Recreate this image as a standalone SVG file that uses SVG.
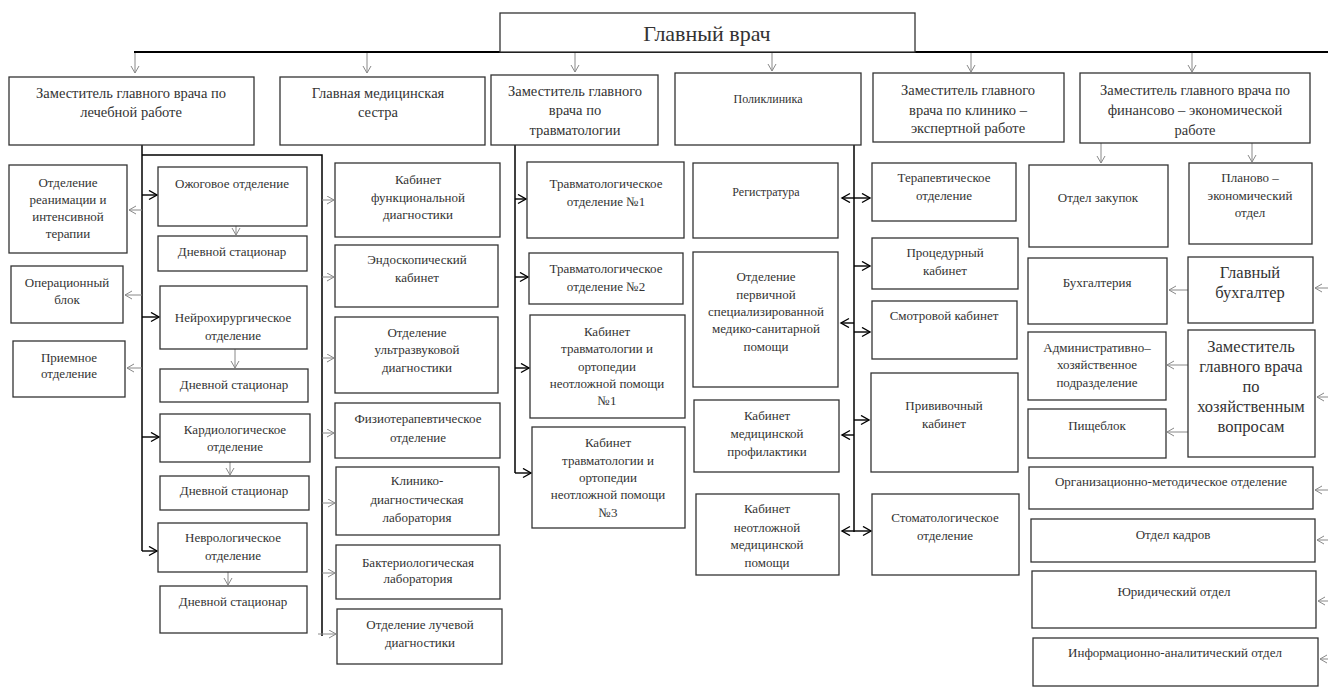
<svg xmlns="http://www.w3.org/2000/svg" width="1328" height="687" viewBox="0 0 1328 687">
<style>
.box{fill:#fff;stroke:#333;stroke-width:1.3}
text{font-size:13px;fill:#333;text-anchor:middle}
.t14{font-size:14.5px}
.t12{font-size:12px}
.t16{font-size:16.5px}
.title{font-size:22px}
.ln{stroke:#000;stroke-width:1.5;fill:none}
.bus{stroke:#000;stroke-width:2;fill:none}
.ga{stroke:#888;stroke-width:1;fill:none;marker-end:url(#mg)}
.ba{stroke:#000;stroke-width:1.4;fill:none;marker-end:url(#mb)}
.bd{stroke:#000;stroke-width:1.4;fill:none;marker-end:url(#mb);marker-start:url(#mb)}
</style>
<defs>
<marker id="mg" markerUnits="userSpaceOnUse" markerWidth="10" markerHeight="10" refX="8" refY="4.5" orient="auto">
<path d="M1,0.5 L8,4.5 L1,8.5" fill="none" stroke="#888" stroke-width="1"/>
</marker>
<marker id="mb" markerUnits="userSpaceOnUse" markerWidth="12" markerHeight="12" refX="9" refY="5" orient="auto-start-reverse">
<path d="M1,0.5 L9,5 L1,9.5" fill="none" stroke="#000" stroke-width="1.4"/>
</marker>
</defs>

<g id="connectors">
<line class="bus" x1="134" y1="52" x2="1328" y2="52"/>
<line class="ga" x1="135" y1="53" x2="135" y2="73"/>
<line class="ga" x1="367" y1="53" x2="367" y2="73"/>
<line class="ga" x1="575" y1="53" x2="575" y2="72"/>
<line class="ga" x1="772" y1="53" x2="772" y2="71"/>
<line class="ga" x1="971" y1="53" x2="971" y2="72"/>
<line class="ga" x1="1192" y1="53" x2="1192" y2="72"/>

<path class="ln" d="M142,145 V551"/>
<path class="ln" d="M142,155 H322 V636"/>
<line class="ga" x1="142" y1="210" x2="129" y2="210"/>
<line class="ga" x1="142" y1="295" x2="125" y2="295"/>
<line class="ga" x1="142" y1="368" x2="127" y2="368"/>
<line class="ba" x1="142" y1="195" x2="157" y2="195"/>
<line class="ba" x1="142" y1="317" x2="159" y2="317"/>
<line class="ba" x1="142" y1="437" x2="159" y2="437"/>
<line class="ba" x1="142" y1="551" x2="157" y2="551"/>
<line class="ga" x1="236" y1="226" x2="236" y2="235"/>
<line class="ga" x1="235" y1="349" x2="235" y2="368"/>
<line class="ga" x1="230" y1="462" x2="230" y2="475"/>
<line class="ga" x1="228" y1="572" x2="228" y2="585"/>
<line class="ga" x1="322" y1="200" x2="334" y2="200"/>
<line class="ga" x1="322" y1="277" x2="334" y2="277"/>
<line class="ga" x1="322" y1="358" x2="334" y2="358"/>
<line class="ga" x1="322" y1="433" x2="334" y2="433"/>
<line class="ga" x1="322" y1="503" x2="335" y2="503"/>
<line class="ga" x1="322" y1="573" x2="335" y2="573"/>
<line class="ga" x1="318" y1="634" x2="336" y2="634"/>

<path class="ln" d="M515,145 V473"/>
<line class="ba" x1="515" y1="199" x2="526" y2="199"/>
<line class="ba" x1="515" y1="277" x2="528" y2="277"/>
<line class="ba" x1="515" y1="368" x2="529" y2="368"/>
<line class="ba" x1="515" y1="473" x2="531" y2="473"/>

<path class="ln" d="M854,145 V532"/>
<line class="bd" x1="842" y1="198" x2="870" y2="198"/>
<line class="ba" x1="854" y1="266" x2="870" y2="266"/>
<line class="ba" x1="854" y1="323" x2="841" y2="323"/>
<line class="ba" x1="854" y1="332" x2="870" y2="332"/>
<line class="ba" x1="854" y1="420" x2="869" y2="420"/>
<line class="ba" x1="854" y1="435" x2="842" y2="435"/>
<line class="bd" x1="842" y1="531" x2="871" y2="531"/>

<line class="ga" x1="1101" y1="143" x2="1101" y2="163"/>
<line class="ga" x1="1252" y1="143" x2="1252" y2="162"/>
<line class="ga" x1="1188" y1="290" x2="1169" y2="290"/>
<line class="ga" x1="1188" y1="365" x2="1167" y2="365"/>
<line class="ga" x1="1188" y1="432" x2="1167" y2="432"/>
<line class="ga" x1="1328" y1="288" x2="1315" y2="288"/>
<line class="ga" x1="1328" y1="397" x2="1317" y2="397"/>
<line class="ga" x1="1328" y1="490" x2="1315" y2="490"/>
<line class="ga" x1="1328" y1="540" x2="1317" y2="540"/>
<line class="ga" x1="1328" y1="601" x2="1318" y2="601"/>
<line class="ga" x1="1328" y1="659" x2="1320" y2="659"/>
</g>

<g id="nodes" font-family="Liberation Serif, Times New Roman, serif">
<g id="chief"><rect class="box" x="500" y="13" width="415" height="39"/><text class="title" x="707" y="41">Главный врач</text></g>

<g id="dep-med"><rect class="box" x="9" y="77" width="245" height="68"/><text class="t14" x="131" y="98">Заместитель главного врача по</text><text class="t14" x="131" y="117">лечебной работе</text></g>
<g id="head-nurse"><rect class="box" x="280" y="77" width="205" height="68"/><text class="t14" x="378" y="98">Главная медицинская</text><text class="t14" x="378" y="117">сестра</text></g>
<g id="dep-trauma"><rect class="box" x="491" y="75" width="167" height="70"/><text class="t14" x="575" y="96">Заместитель главного</text><text class="t14" x="575" y="115">врача по</text><text class="t14" x="575" y="135">травматологии</text></g>
<g id="polyclinic"><rect class="box" x="675" y="73" width="186" height="72"/><text class="t12" x="768" y="103">Поликлиника</text></g>
<g id="dep-expert"><rect class="box" x="873" y="73" width="191" height="69"/><text class="t14" x="968" y="95">Заместитель главного</text><text class="t14" x="968" y="115">врача по клинико –</text><text class="t14" x="968" y="133">экспертной работе</text></g>
<g id="dep-fin"><rect class="box" x="1080" y="73" width="230" height="70"/><text class="t14" x="1195" y="95">Заместитель главного врача по</text><text class="t14" x="1195" y="115">финансово – экономической</text><text class="t14" x="1195" y="135">работе</text></g>

<g id="icu"><rect class="box" x="9" y="165" width="118" height="88"/><text x="68" y="187">Отделение</text><text x="68" y="204">реанимации и</text><text x="68" y="221">интенсивной</text><text x="68" y="238">терапии</text></g>
<g id="or"><rect class="box" x="11" y="266" width="112" height="57"/><text x="67" y="287">Операционный</text><text x="67" y="304">блок</text></g>
<g id="admission"><rect class="box" x="13" y="341" width="112" height="56"/><text x="69" y="362">Приемное</text><text x="69" y="378">отделение</text></g>

<g id="burn"><rect class="box" x="158" y="167" width="149" height="59"/><text x="232" y="188">Ожоговое отделение</text></g>
<g id="day1"><rect class="box" x="158" y="236" width="149" height="35"/><text x="232" y="256">Дневной стационар</text></g>
<g id="neurosurg"><rect class="box" x="160" y="286" width="147" height="63"/><text x="233" y="322">Нейрохирургическое</text><text x="233" y="340">отделение</text></g>
<g id="day2"><rect class="box" x="160" y="369" width="148" height="33"/><text x="234" y="389">Дневной стационар</text></g>
<g id="cardio"><rect class="box" x="160" y="414" width="150" height="48"/><text x="235" y="434">Кардиологическое</text><text x="235" y="451">отделение</text></g>
<g id="day3"><rect class="box" x="160" y="476" width="149" height="34"/><text x="234" y="495">Дневной стационар</text></g>
<g id="neuro"><rect class="box" x="158" y="523" width="149" height="49"/><text x="233" y="542">Неврологическое</text><text x="233" y="560">отделение</text></g>
<g id="day4"><rect class="box" x="160" y="586" width="147" height="47"/><text x="233" y="606">Дневной стационар</text></g>

<g id="func-diag"><rect class="box" x="335" y="163" width="165" height="74"/><text x="418" y="184">Кабинет</text><text x="418" y="202">функциональной</text><text x="418" y="219">диагностики</text></g>
<g id="endo"><rect class="box" x="335" y="245" width="163" height="62"/><text x="417" y="264">Эндоскопический</text><text x="417" y="282">кабинет</text></g>
<g id="us"><rect class="box" x="335" y="317" width="163" height="76"/><text x="417" y="337">Отделение</text><text x="417" y="354">ультразвуковой</text><text x="417" y="372">диагностики</text></g>
<g id="physio"><rect class="box" x="335" y="403" width="165" height="55"/><text x="418" y="423">Физиотерапевтическое</text><text x="418" y="442">отделение</text></g>
<g id="clinlab"><rect class="box" x="336" y="467" width="163" height="68"/><text x="417" y="485">Клинико-</text><text x="417" y="504">диагностическая</text><text x="417" y="522">лаборатория</text></g>
<g id="bactlab"><rect class="box" x="336" y="545" width="164" height="54"/><text x="418" y="567">Бактериологическая</text><text x="418" y="583">лаборатория</text></g>
<g id="rad"><rect class="box" x="337" y="609" width="165" height="55"/><text x="420" y="629">Отделение лучевой</text><text x="420" y="647">диагностики</text></g>

<g id="trauma1"><rect class="box" x="527" y="162" width="157" height="76"/><text x="606" y="188">Травматологическое</text><text x="606" y="206">отделение №1</text></g>
<g id="trauma2"><rect class="box" x="529" y="253" width="154" height="51"/><text x="606" y="273">Травматологическое</text><text x="606" y="291">отделение №2</text></g>
<g id="ortho1"><rect class="box" x="530" y="315" width="155" height="103"/><text x="607" y="336">Кабинет</text><text x="607" y="353">травматологии и</text><text x="607" y="371">ортопедии</text><text x="607" y="388">неотложной помощи</text><text x="607" y="405">№1</text></g>
<g id="ortho3"><rect class="box" x="532" y="427" width="153" height="101"/><text x="608" y="447">Кабинет</text><text x="608" y="465">травматологии и</text><text x="608" y="482">ортопедии</text><text x="608" y="499">неотложной помощи</text><text x="608" y="517">№3</text></g>

<g id="registry"><rect class="box" x="693" y="163" width="145" height="75"/><text class="t12" x="766" y="196">Регистратура</text></g>
<g id="primary"><rect class="box" x="693" y="252" width="145" height="135"/><text x="766" y="281">Отделение</text><text x="766" y="299">первичной</text><text x="766" y="316">специализированной</text><text x="766" y="333">медико-санитарной</text><text x="766" y="351">помощи</text></g>
<g id="prevention"><rect class="box" x="694" y="400" width="145" height="72"/><text x="767" y="420">Кабинет</text><text x="767" y="438">медицинской</text><text x="767" y="456">профилактики</text></g>
<g id="urgent"><rect class="box" x="696" y="494" width="143" height="81"/><text x="767" y="513">Кабинет</text><text x="767" y="532">неотложной</text><text x="767" y="549">медицинской</text><text x="767" y="567">помощи</text></g>

<g id="therapy"><rect class="box" x="872" y="163" width="144" height="58"/><text x="944" y="182">Терапевтическое</text><text x="944" y="200">отделение</text></g>
<g id="procedure"><rect class="box" x="872" y="238" width="146" height="51"/><text x="945" y="257">Процедурный</text><text x="945" y="275">кабинет</text></g>
<g id="exam"><rect class="box" x="872" y="301" width="145" height="58"/><text x="944" y="320">Смотровой кабинет</text></g>
<g id="vaccine"><rect class="box" x="871" y="373" width="147" height="99"/><text x="944" y="410">Прививочный</text><text x="944" y="428">кабинет</text></g>
<g id="dental"><rect class="box" x="872" y="494" width="147" height="81"/><text x="945" y="522">Стоматологическое</text><text x="945" y="540">отделение</text></g>

<g id="procurement"><rect class="box" x="1029" y="165" width="139" height="82"/><text x="1098" y="202">Отдел закупок</text></g>
<g id="planning"><rect class="box" x="1189" y="163" width="123" height="81"/><text x="1250" y="182">Планово –</text><text x="1250" y="200">экономический</text><text x="1250" y="217">отдел</text></g>
<g id="accounting"><rect class="box" x="1028" y="258" width="139" height="66"/><text x="1097" y="287">Бухгалтерия</text></g>
<g id="chief-acc"><rect class="box" x="1188" y="257" width="125" height="66"/><text class="t16" x="1250" y="278">Главный</text><text class="t16" x="1250" y="298">бухгалтер</text></g>
<g id="admin"><rect class="box" x="1028" y="332" width="138" height="68"/><text x="1097" y="352">Административно–</text><text x="1097" y="369">хозяйственное</text><text x="1097" y="387">подразделение</text></g>
<g id="dep-house"><rect class="box" x="1188" y="330" width="127" height="127"/><text class="t16" x="1251" y="352">Заместитель</text><text class="t16" x="1251" y="372">главного врача</text><text class="t16" x="1251" y="392">по</text><text class="t16" x="1251" y="412">хозяйственным</text><text class="t16" x="1251" y="432">вопросам</text></g>
<g id="catering"><rect class="box" x="1028" y="409" width="138" height="49"/><text x="1097" y="430">Пищеблок</text></g>
<g id="org-method"><rect class="box" x="1029" y="467" width="284" height="42"/><text x="1171" y="486">Организационно-методическое отделение</text></g>
<g id="hr"><rect class="box" x="1031" y="519" width="284" height="43"/><text x="1173" y="539">Отдел кадров</text></g>
<g id="legal"><rect class="box" x="1032" y="571" width="284" height="57"/><text x="1174" y="596">Юридический отдел</text></g>
<g id="info"><rect class="box" x="1033" y="638" width="285" height="48"/><text x="1175" y="657">Информационно-аналитический отдел</text></g>
</g>
</svg>
